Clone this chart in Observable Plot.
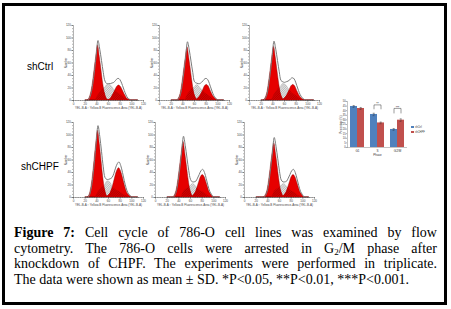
<!DOCTYPE html>
<html>
<head>
<meta charset="utf-8">
<script src="https://cdn.jsdelivr.net/npm/d3@7"></script>
<script src="https://cdn.jsdelivr.net/npm/@observablehq/plot@0.6"></script>
<style>
html,body{margin:0;padding:0;background:#fff;}
#fig{position:relative;width:451px;height:309px;overflow:hidden;background:#fff;}
#border{position:absolute;left:2px;top:3px;width:445px;height:302px;border:3px solid #000;box-sizing:border-box;}
.panel{position:absolute;}
.rowlabel{position:absolute;font-family:"Liberation Sans",Arial,sans-serif;font-size:10px;line-height:12px;color:#000;}
#caption{position:absolute;left:14px;top:225px;width:423px;font-family:"Liberation Serif","Times New Roman",serif;font-size:14px;line-height:15.7px;color:#000;}
.ln{text-align:justify;text-align-last:justify;}
.ln.last{text-align:left;text-align-last:left;}
sub{font-size:9px;line-height:0;vertical-align:-2px;}
.leg{position:absolute;font-family:"Liberation Sans",Arial,sans-serif;font-size:2.6px;line-height:3px;color:#333;white-space:nowrap;}
.sw{display:inline-block;width:3px;height:2px;margin-right:1px;vertical-align:middle;}
</style>
</head>
<body>
<svg width="0" height="0" style="position:absolute">
  <defs>
    <pattern id="hatch" patternUnits="userSpaceOnUse" width="1.6" height="1.6" patternTransform="rotate(45)">
      <rect width="1.6" height="1.6" fill="#e8e8e8"></rect>
      <line x1="0.4" y1="0" x2="0.4" y2="1.6" stroke="#a4a4a4" stroke-width="0.55"></line>
    </pattern>
    <pattern id="hatchRed" patternUnits="userSpaceOnUse" width="1.6" height="1.6" patternTransform="rotate(45)">
      <rect width="1.6" height="1.6" fill="#d80000"></rect>
      <line x1="0.4" y1="0" x2="0.4" y2="1.6" stroke="#a00000" stroke-width="0.55"></line>
    </pattern>
  </defs>
</svg>
<div id="fig">
  <div id="border"></div>
  <div class="rowlabel" style="left:27px;top:61px;">shCtrl</div>
  <div class="rowlabel" style="left:21px;top:161px;">shCHPF</div>
  <div id="caption">
    <div class="ln"><b>Figure 7:</b> Cell cycle of 786-O cell lines was examined by flow</div>
    <div class="ln">cytometry. The 786-O cells were arrested in G<sub>2</sub>/M phase after</div>
    <div class="ln">knockdown of CHPF. The experiments were performed in triplicate.</div>
    <div class="ln last">The data were shown as mean ± SD. *P&lt;0.05, **P&lt;0.01, ***P&lt;0.001.</div>
  </div>
</div>
<script>
// ---------- Histogram data (fluorescence channel, counts per fitted component) ----------
const fluorescence = [21,24,27,30,33,36,39,42,45,48,51,54,57,60,63,66,69,72,75,78,81,84,87,90,93,96,99,102,105,108,111];

const ctrl1G1 = [0,0,3,11,26,48,70,88,70,48, 26,11,3,0,0,0,0,0,0,0, 0,0,0,0,0,0,0,0,0,0,0];
const ctrl1S  = [0,0,0,0,0,0,3,8,12,16, 19,20,24,26,25,22,18,15,13,11, 9,7,5,3,2,1,0,0,0,0,0];
const ctrl1G2 = [0,0,0,0,0,0,0,0,0,0, 0,0,0,1,2,6,11,17,22,24, 22,17,11,6,2,1,0,0,0,0,0];

const ctrl2G1 = [0,0,0,0,3,10,26,47,68,85, 68,47,26,10,3,0,0,0,0,0, 0,0,0,0,0,0,0,0,0,0,0];
const ctrl2S  = [0,0,0,0,0,0,0,0,3,9, 13,16,19,20,24,24,21,18,15,12, 10,8,6,4,2,1,0,0,0,0,0];
const ctrl2G2 = [0,0,0,0,0,0,0,0,0,0, 0,0,0,0,1,3,6,11,17,23, 25,23,17,11,6,3,1,0,0,0,0];

const ctrl3G1 = [0,0,3,10,26,47,69,86,69,47, 26,10,3,0,0,0,0,0,0,0, 0,0,0,0,0,0,0,0,0,0,0];
const ctrl3S  = [0,0,0,0,0,0,3,9,13,17, 20,22,26,26,24,20,16,13,11,9, 7,5,3,2,1,0,0,0,0,0,0];
const ctrl3G2 = [0,0,0,0,0,0,0,0,0,0, 0,0,1,3,6,11,17,23,25,23, 17,11,6,3,1,0,0,0,0,0,0];

const chpf1G1 = [0,0,3,13,32,59,86,107,86,59, 32,13,3,0,0,0,0,0,0,0, 0,0,0,0,0,0,0,0,0,0,0];
const chpf1S  = [0,0,0,0,0,0,3,8,12,15, 17,19,25,26,24,19,15,13,11,10, 8,6,4,3,2,1,0,0,0,0,0];
const chpf1G2 = [0,0,0,0,0,0,0,0,0,0, 0,0,1,3,6,13,23,34,43,47, 43,34,23,13,6,3,1,0,0,0,0];

const chpf2G1 = [0,0,0,0,3,11,27,49,71,89, 71,49,27,11,3,0,0,0,0,0, 0,0,0,0,0,0,0,0,0,0,0];
const chpf2S  = [0,0,0,0,0,0,0,0,3,9, 12,14,16,18,21,21,18,15,12,10, 9,7,5,3,2,1,0,0,0,0,0];
const chpf2G2 = [0,0,0,0,0,0,0,0,0,0, 0,0,0,0,1,4,8,16,25,33, 36,33,25,16,8,4,1,0,0,0,0];

const chpf3G1 = [0,0,0,0,0,3,10,26,48,70, 87,70,48,26,10,3,0,0,0,0, 0,0,0,0,0,0,0,0,0,0,0];
const chpf3S  = [0,0,0,0,0,0,0,0,0,3, 9,12,14,16,18,21,21,18,15,12, 10,9,7,5,3,2,1,0,0,0,0];
const chpf3G2 = [0,0,0,0,0,0,0,0,0,0, 0,0,0,0,0,1,4,8,16,25, 33,36,33,25,16,8,4,1,0,0,0];

const xTicks = [0,20,40,60,80,100,120];
const yTicks = [0,20,40,60,80,100,120];
const xTitle = "YEL-B-A :: Yellow-B Fluorescence-Area (YEL-B-A)";
const yTitle = "Number";

// ---------- Bar chart data ----------
const phases = ["G1","S","G2/M"];
const groups = ["shCtrl","shCHPF"];
const ctrlPct = [44.6, 35.9, 19.6];
const chpfPct = [42.4, 26.7, 29.7];
const ctrlSD  = [1.0, 1.3, 1.0];
const chpfSD  = [1.1, 0.9, 1.4];
const sigPhases = ["S","G2/M"];
const sigLabels = ["**","***"];
const sigTop = [46.3, 42.5];
const sigLeg = [42.0, 37.5];
const pctTicks = [0,5,10,15,20,25,30,35,40,45,50];
const barColors = ["#4f81bd","#c0504d"];

// ---------- Layout ----------
const fig = document.getElementById("fig");
const panels = [
  {g1: ctrl1G1, s: ctrl1S, g2: ctrl1G2, left: 73,  top: 25},
  {g1: ctrl2G1, s: ctrl2S, g2: ctrl2G2, left: 159, top: 25},
  {g1: ctrl3G1, s: ctrl3S, g2: ctrl3G2, left: 249, top: 25},
  {g1: chpf1G1, s: chpf1S, g2: chpf1G2, left: 73,  top: 122},
  {g1: chpf2G1, s: chpf2S, g2: chpf2G2, left: 155, top: 122},
  {g1: chpf3G1, s: chpf3S, g2: chpf3G2, left: 244, top: 122}
];
const mL = 14, mT = 3, mR = 3, mB = 13, pw = 70, ph = 75;

function histogram(p) {
  const rows = fluorescence.map((x, i) => ({
    x, g1: p.g1[i], s: p.s[i], g2: p.g2[i],
    s_g1: Math.min(p.s[i], p.g1[i]), s_g2: Math.min(p.s[i], p.g2[i]),
    total: p.g1[i] + p.s[i] + p.g2[i]
  }));
  const cv = {curve: "catmull-rom"};
  const red = {fill: "#e60000", stroke: "#7a0000", strokeWidth: 0.4, ...cv};
  const over = {fill: "url(#hatchRed)", ...cv};
  return Plot.plot({
    width: mL + pw + mR, height: mT + ph + mB,
    marginLeft: mL, marginTop: mT, marginRight: mR, marginBottom: mB,
    style: {fontFamily: "Liberation Sans, Arial, sans-serif", fontSize: "3px", background: "transparent", overflow: "visible", color: "#444"},
    x: {domain: [0, 120]},
    y: {domain: [0, 120]},
    marks: [
      Plot.areaY(rows, {x: "x", y: "s", fill: "url(#hatch)", stroke: "#8a8a8a", strokeWidth: 0.3, ...cv}),
      Plot.areaY(rows, {x: "x", y: "g1", ...red}),
      Plot.areaY(rows, {x: "x", y: "g2", ...red}),
      Plot.areaY(rows, {x: "x", y: "s_g1", ...over}),
      Plot.areaY(rows, {x: "x", y: "s_g2", ...over}),
      Plot.lineY(rows, {x: "x", y: "total", stroke: "#7c7c7c", strokeWidth: 1, ...cv}),
      Plot.ruleY([0], {stroke: "#666", strokeWidth: 0.5}),
      Plot.ruleX([0], {stroke: "#666", strokeWidth: 0.5}),
      Plot.axisX({ticks: d3.range(0, 121, 4), tickSize: 1, tickFormat: () => "", label: null, strokeWidth: 0.4}),
      Plot.axisX({ticks: xTicks, tickSize: 1.8, tickPadding: 0.8, fontSize: 3, strokeWidth: 0.5,
        label: xTitle, labelAnchor: "center", labelOffset: 8.5, labelArrow: "none"}),
      Plot.axisY({ticks: d3.range(0, 121, 5), tickSize: 1, tickFormat: () => "", label: null, strokeWidth: 0.4}),
      Plot.axisY({ticks: yTicks, tickSize: 1.8, tickPadding: 0.8, fontSize: 3, strokeWidth: 0.5,
        label: yTitle, labelAnchor: "center", labelOffset: 9, labelArrow: "none"})
    ]
  });
}

panels.forEach(p => {
  const svg = histogram(p);
  svg.classList.add("panel");
  svg.style.left = (p.left - mL) + "px";
  svg.style.top = (p.top - mT) + "px";
  fig.appendChild(svg);
});

// ---------- Bar chart ----------
const bars = [];
phases.forEach((ph_, i) => {
  bars.push({phase: ph_, group: groups[0], value: ctrlPct[i], sd: ctrlSD[i]});
  bars.push({phase: ph_, group: groups[1], value: chpfPct[i], sd: chpfSD[i]});
});
const brackets = [];
const sigText = [];
sigPhases.forEach((ph_, i) => {
  brackets.push({phase: ph_, group: groups[0], v: sigLeg[i]});
  brackets.push({phase: ph_, group: groups[0], v: sigTop[i]});
  brackets.push({phase: ph_, group: groups[1], v: sigTop[i]});
  brackets.push({phase: ph_, group: groups[1], v: sigLeg[i]});
  sigText.push({phase: ph_, v: sigTop[i], label: sigLabels[i]});
});

const bL = 14, bT = 3, bR = 2, bB = 12, bw = 62, bh = 46;
const barSvg = Plot.plot({
  width: bL + bw + bR, height: bT + bh + bB,
  marginLeft: bL, marginTop: bT, marginRight: bR, marginBottom: bB,
  style: {fontFamily: "Liberation Sans, Arial, sans-serif", fontSize: "3px", background: "transparent", overflow: "visible", color: "#333"},
  fx: {domain: phases, padding: 0},
  x: {domain: groups, paddingInner: 0, paddingOuter: 0.35, axis: null},
  y: {domain: [0, 50]},
  color: {domain: groups, range: barColors},
  marks: [
    Plot.barY(bars, {fx: "phase", x: "group", y: "value", fill: "group"}),
    Plot.ruleX(bars, {fx: "phase", x: "group", y1: d => d.value - d.sd, y2: d => d.value + d.sd, stroke: "#222", strokeWidth: 0.4}),
    Plot.tickY(bars, {fx: "phase", x: "group", y: d => d.value + d.sd, stroke: "#222", strokeWidth: 0.4, inset: 2.6}),
    Plot.tickY(bars, {fx: "phase", x: "group", y: d => d.value - d.sd, stroke: "#222", strokeWidth: 0.4, inset: 2.6}),
    Plot.line(brackets, {fx: "phase", x: "group", y: "v", stroke: "#222", strokeWidth: 0.45}),
    Plot.text(sigText, {fx: "phase", y: "v", text: "label", fontSize: 3.2, lineAnchor: "bottom", dy: 0.3, fill: "#222"}),
    Plot.ruleY([0], {stroke: "#888", strokeWidth: 0.5}),
    Plot.frame({anchor: "left", facetAnchor: "left", stroke: "#888", strokeWidth: 0.5}),
    Plot.axisY({ticks: pctTicks, tickSize: 1.2, tickPadding: 0.6, fontSize: 2.6, strokeWidth: 0.4,
      label: "Percentage (%)", labelAnchor: "center", labelOffset: 7.5, labelArrow: "none"}),
    Plot.axisFx({anchor: "bottom", tickSize: 0, tickPadding: 2.5, fontSize: 3, label: "Phase", labelAnchor: "center", labelOffset: 8})
  ]
});
barSvg.classList.add("panel");
barSvg.style.left = (346 - bL) + "px";
barSvg.style.top = (101.3 - bT) + "px";
fig.appendChild(barSvg);

// ---------- Legend ----------
groups.forEach((g, i) => {
  const d = document.createElement("div");
  d.className = "leg";
  d.style.left = "411px";
  d.style.top = (125.5 + i * 5) + "px";
  d.innerHTML = `<span class="sw" style="background:${barColors[i]}"></span>${g}`;
  fig.appendChild(d);
});
</script>
</body>
</html>
